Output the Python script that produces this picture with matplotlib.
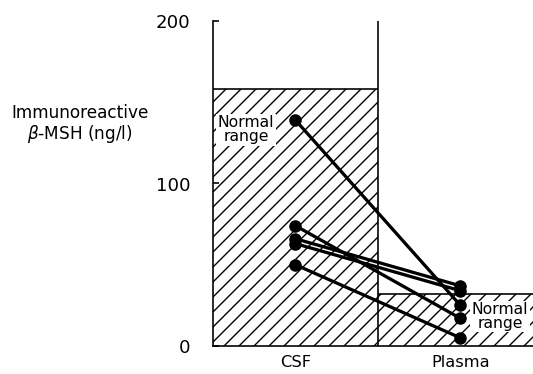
import matplotlib
matplotlib.use("Agg")
import matplotlib.pyplot as plt

# data
groups = ["CSF", "Plasma"]
csf_values = [139, 74, 66, 63, 50]
plasma_values = [25, 17, 37, 34, 5]
normal_csf = 158
normal_plasma = 32
yticks = [0, 100, 200]

plt.rcParams["font.family"] = "DejaVu Sans"
plt.rcParams["hatch.linewidth"] = 1.1

fig = plt.figure(figsize=(533 / 90, 374 / 90), dpi=90)
ax = fig.add_axes([213 / 533, 28 / 374, 320 / 533, 325 / 374])

xpos = [0.5, 1.5]
xmax = 1.94

# hatched normal ranges
ax.bar(0, normal_csf, width=1, align="edge", facecolor="white",
       edgecolor="black", hatch="//", linewidth=0, zorder=1)
ax.bar(1, normal_plasma, width=xmax - 1, align="edge", facecolor="white",
       edgecolor="black", hatch="//", linewidth=0, zorder=1)
ax.hlines(normal_csf, 0, 1, color="black", lw=1.3, zorder=2)
ax.hlines(normal_plasma, 1, xmax, color="black", lw=1.3, zorder=2)
ax.vlines(1, 0, 200, color="black", lw=1.3, zorder=2)

# paired subjects
for c, p in zip(csf_values, plasma_values):
    ax.plot(xpos, [c, p], color="black", lw=2.6, marker="o", ms=9,
            solid_capstyle="round", zorder=3, clip_on=False)

ax.text(0.2, 133, "Normal\nrange", ha="center", va="center", fontsize=12.5,
        linespacing=0.9, zorder=4,
        bbox=dict(facecolor="white", edgecolor="none", pad=1))
ax.text(1.74, 18, "Normal\nrange", ha="center", va="center", fontsize=12.5,
        linespacing=0.9, zorder=4,
        bbox=dict(facecolor="white", edgecolor="none", pad=1))

ax.set_xlim(0, xmax)
ax.set_ylim(0, 200)
ax.set_yticks(yticks)
ax.set_yticklabels([str(t) for t in yticks], fontsize=14.5)
ax.tick_params(axis="y", direction="in", length=5, width=1.3, pad=18)
ax.set_xticks(xpos)
ax.set_xticklabels(groups, fontsize=13)
ax.tick_params(axis="x", length=0, pad=7)

for s in ["top", "right"]:
    ax.spines[s].set_visible(False)
for s in ["left", "bottom"]:
    ax.spines[s].set_linewidth(1.3)

fig.text(80 / 533, 1 - 113 / 374, "Immunoreactive", ha="center",
         va="center", fontsize=13.5)
fig.text(80 / 533, 1 - 134 / 374, r"$\beta$-MSH (ng/l)", ha="center",
         va="center", fontsize=13.5)

fig.savefig("out.png", dpi=90)
